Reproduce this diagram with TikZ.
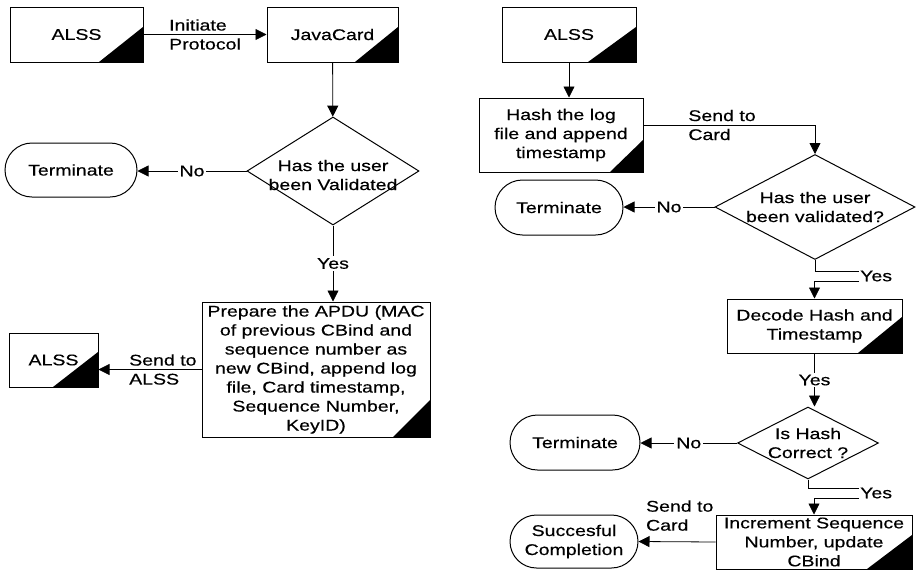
\documentclass[tikz,border=0pt]{standalone}
\usepackage{fontspec}
\setmainfont{Liberation Sans}[FakeStretch=1.26,FakeBold=0.4]
\usetikzlibrary{shapes.geometric,shapes.misc,arrows.meta}

\begin{document}
\begin{tikzpicture}[x=1pt,y=-1pt,
    every node/.style={font=\fontsize{15.5}{19}\selectfont, align=center},
    card/.style 2 args={draw, rectangle, line width=1pt, inner sep=0pt,
        path picture={\fill (path picture bounding box.south east) -- ++(-#1pt,0pt) -- ++(#1pt,#2pt) -- cycle;}},
    dia/.style={draw, diamond, line width=1pt, inner sep=0pt},
    term/.style={draw, rounded rectangle, line width=1pt, inner sep=0pt, minimum width=130, minimum height=54},
    arr/.style={line width=0.8pt, -{Triangle[length=11pt,width=11pt]}},
    gap/.style={fill=white, inner sep=2pt}]
    \useasboundingbox (0,0) rectangle (916,571);
    % left flow
    \node [card={44}{35}, minimum width=133, minimum height=55] (alssA) at (76.5,34.5) {ALSS};
    \node [card={43}{35}, minimum width=131, minimum height=55] (java) at (332.5,34.5) {JavaCard};
    \node [dia, minimum width=172, minimum height=108,
        label={[align=center,yshift=-4pt]center:Has the user\\been Validated}] (validA) at (333,171) {};
    \node [term, minimum width=132] (termA) at (71,170) {Terminate};
    \node [card={37}{37}, minimum width=228, minimum height=135] (apdu) at (316,369.5)
        {Prepare the APDU (MAC\\of previous CBind and\\sequence number as\\new CBind, append log\\file, Card timestamp,\\Sequence Number,\\KeyID)};
    \node [card={45}{35}, minimum width=89, minimum height=54] (alssC) at (53.5,360) {ALSS};
    \draw [arr] (alssA) -- node [align=left] {Initiate\\Protocol} (java);
    \draw [arr] (java) -- (validA);
    \draw [arr] (validA.west) -- node [gap] {No} (validA.west -| termA.east);
    \draw [arr] (validA.south) -- node [gap] {Yes} (validA.south |- apdu.north);
    \draw [arr] (apdu.west) -- node [pos=0.375, align=left] {Send to\\ALSS} (apdu.west -| alssC.east);
    % right flow
    \node [card={48}{35}, minimum width=134, minimum height=55] (alssB) at (569,34.5) {ALSS};
    \node [card={33}{32}, minimum width=164, minimum height=74] (hash) at (561,135) {Hash the log\\file and append\\timestamp};
    \node [dia, minimum width=200, minimum height=105,
        label={[align=center]center:Has the user\\been validated?}] (validB) at (815,207) {};
    \node [term, minimum width=128, minimum height=55] (termB) at (559,207.5) {Terminate};
    \node [card={44}{36}, minimum width=175, minimum height=54] (decode) at (814.5,326) {Decode Hash and\\Timestamp};
    \node [dia, minimum width=141, minimum height=72,
        label={[align=center]center:Is Hash\\Correct ?}] (check) at (808,443) {};
    \node [term, minimum height=55] (termC) at (575,442.5) {Terminate};
    \node [card={45}{34}, minimum width=196, minimum height=54] (incr) at (814,542) {Increment Sequence\\Number, update\\CBind};
    \node [term, minimum width=128, minimum height=53] (done) at (574,541.5) {Succesful\\Completion};
    \node [anchor=west, inner sep=1pt] (yesB) at (859,276) {Yes};
    \node [anchor=west, inner sep=1pt] (yesC) at (859,493) {Yes};
    \draw [arr] (alssB.south) -- (alssB.south |- hash.north);
    \draw [arr] ([yshift=10pt]hash.east) -| node [pos=0.12, anchor=west, align=left] {Send to\\Card} (validB.north);
    \draw [arr] (validB.west) -- node [gap] {No} (validB.west -| termB.east);
    \draw (validB.south) |- ([yshift=5pt]yesB.west);
    \draw [arr] ([yshift=-5pt]yesB.west) -| (decode.north);
    \draw [arr] (decode.south) -- node [gap] {Yes} (decode.south |- check.north);
    \draw [arr] (check.west) -- node [gap] {No} (check.west -| termC.east);
    \draw (check.south) |- ([yshift=5pt]yesC.west);
    \draw [arr] ([yshift=-5pt]yesC.west) -| (incr.north);
    \draw [arr] (incr.west) -- node [pos=0.95, anchor=south west, yshift=7pt, align=left] {Send to\\Card} (done.east);
\end{tikzpicture}
\end{document}
